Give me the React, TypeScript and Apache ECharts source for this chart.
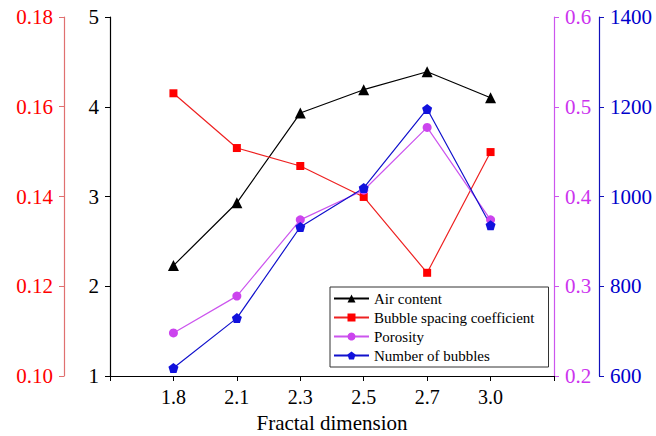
import React, { useEffect, useRef } from "react";
import * as echarts from "echarts";

const categories = ["", "1.8", "2.1", "2.3", "2.5", "2.7", "3.0", ""];
const airContent = [null, 2.23, 2.93, 3.93, 4.19, 4.39, 4.1, null];
const bubbleSpacing = [null, 0.163, 0.1508, 0.1468, 0.1399, 0.123, 0.1499, null];
const porosity = [null, 0.248, 0.289, 0.374, 0.407, 0.477, 0.374, null];
const bubbleCount = [null, 618, 729, 932, 1019, 1195, 936, null];

const FONT = "Liberation Serif, Times New Roman, serif";
const pentagon =
  "path://M50,0 L97.55,34.55 L79.39,90.45 L20.61,90.45 L2.45,34.55 Z";

export default function App() {
  const ref = useRef<HTMLDivElement>(null);
  useEffect(() => {
    const chart = echarts.init(ref.current!, null, { renderer: "svg" });
    const mkY = (
      color: string,
      lineColor: string,
      extra: Record<string, unknown>,
      fmt: (v: number) => string
    ) => ({
      type: "value",
      splitLine: { show: false },
      axisLine: { show: true, lineStyle: { color: lineColor, width: 1.2 } },
      axisTick: { show: true, inside: false, length: 5, lineStyle: { color: lineColor } },
      axisLabel: {
        color,
        fontFamily: FONT,
        fontSize: 21,
        fontWeight: "normal",
        fontStyle: "normal",
        margin: 11,
        formatter: fmt,
      },
      ...extra,
    });
    chart.setOption({
      animation: false,
      backgroundColor: "#ffffff",
      textStyle: { fontFamily: FONT },
      grid: {
        left: 110,
        right: 102,
        top: 17,
        bottom: 60,
        containLabel: false,
        outerBoundsMode: "none",
      },
      legend: {
        orient: "vertical",
        left: 330,
        top: 287,
        backgroundColor: "#ffffff",
        borderColor: "#333",
        borderWidth: 1,
        borderRadius: 0,
        padding: [4, 14, 4, 3],
        itemWidth: 35,
        itemHeight: 10,
        itemGap: 4,
        textStyle: { fontFamily: FONT, fontSize: 15, color: "#000" },
        data: ["Air content", "Bubble spacing coefficient", "Porosity", "Number of bubbles"],
      },
      xAxis: {
        type: "category",
        data: categories,
        boundaryGap: false,
        name: "Fractal dimension",
        nameLocation: "middle",
        nameGap: 36,
        nameTextStyle: { fontFamily: FONT, fontSize: 21, color: "#000" },
        axisLine: { lineStyle: { color: "#000", width: 1.2 } },
        axisTick: { show: true, length: 5, interval: 0, lineStyle: { color: "#000" } },
        axisLabel: { color: "#000", fontFamily: FONT, fontSize: 20, margin: 11, interval: 0 },
      },
      yAxis: [
        mkY("#000", "#000", { position: "left", min: 1, max: 5, interval: 1 }, (v) => String(v)),
        mkY(
          "#ff0000",
          "#e07070",
          { position: "left", offset: 46, min: 0.1, max: 0.18, interval: 0.02 },
          (v: number) => v.toFixed(2)
        ),
        mkY(
          "#cc33ee",
          "#cc55ee",
          { position: "right", min: 0.2, max: 0.6, interval: 0.1 },
          (v: number) => v.toFixed(1)
        ),
        mkY(
          "#0000cc",
          "#1111bb",
          { position: "right", offset: 45, min: 600, max: 1400, interval: 200 },
          (v) => String(v)
        ),
      ],
      series: [
        {
          name: "Air content",
          type: "line",
          yAxisIndex: 0,
          data: airContent,
          symbol: "triangle",
          symbolSize: 11,
          color: "#000",
          lineStyle: { color: "#000", width: 1.2 },
          itemStyle: { color: "#000" },
        },
        {
          name: "Bubble spacing coefficient",
          type: "line",
          yAxisIndex: 1,
          data: bubbleSpacing,
          symbol: "rect",
          symbolSize: 8,
          color: "#ff0000",
          lineStyle: { color: "#ee2222", width: 1.2 },
          itemStyle: { color: "#ff0000" },
        },
        {
          name: "Porosity",
          type: "line",
          yAxisIndex: 2,
          data: porosity,
          symbol: "circle",
          symbolSize: 9,
          color: "#cc44ee",
          lineStyle: { color: "#cc55ee", width: 1.2 },
          itemStyle: { color: "#cc44ee" },
        },
        {
          name: "Number of bubbles",
          type: "line",
          yAxisIndex: 3,
          data: bubbleCount,
          symbol: pentagon,
          symbolSize: 10,
          color: "#1111dd",
          lineStyle: { color: "#1111cc", width: 1.2 },
          itemStyle: { color: "#1111dd" },
        },
      ],
    });
    return () => chart.dispose();
  }, []);
  return (
    <div
      ref={ref}
      style={{ position: "fixed", left: 0, top: 0, width: 656, height: 436, background: "#fff" }}
    />
  );
}
